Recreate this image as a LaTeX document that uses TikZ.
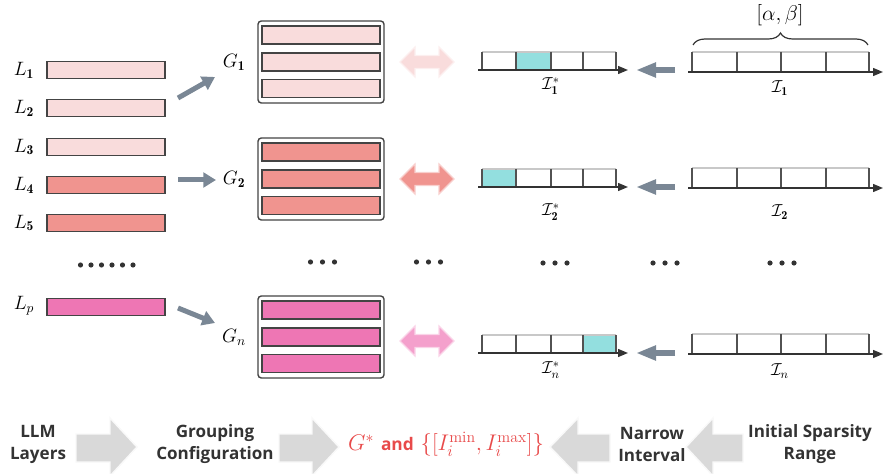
\RequirePackage{fix-cm}
\documentclass[tikz,border=0pt]{standalone}
\usepackage{fontspec}
\usetikzlibrary{arrows.meta,decorations.pathreplacing}
\newfontfamily\labfont{Open Sans}
\definecolor{lpink}{HTML}{F9DCDC}
\definecolor{salmon}{HTML}{F0948F}
\definecolor{hpink}{HTML}{EE76B4}
\definecolor{dpink}{HTML}{F4A0CC}
\definecolor{barline}{HTML}{444444}
\definecolor{agray}{HTML}{7A8795}
\definecolor{cyanc}{HTML}{93DFDF}
\definecolor{txtdark}{HTML}{333333}
\definecolor{redc}{HTML}{E84A4A}
\definecolor{blockg}{HTML}{D9D9D9}
\definecolor{celltop}{HTML}{C8C8C8}
\begin{document}
\begin{tikzpicture}[x=0.75pt,y=-0.75pt,
 lbar/.style={draw=barline,line width=0.9pt,minimum width=88.5pt,minimum height=12.75pt,inner sep=0pt},
 gbar/.style={lbar,minimum height=13.5pt},
 gbox/.style={draw=barline,line width=1.05pt,rounded corners=2.5pt,minimum width=94.5pt,minimum height=61.5pt,inner sep=0pt},
 mlab/.style={font=\fontsize{14.5}{17}\selectfont,inner sep=0pt},
 ilab/.style={font=\fontsize{13}{15}\selectfont,inner sep=0pt},
 garrow/.style={draw=agray,line width=3.75pt,-{Triangle[length=9.5pt,width=11pt]}},
 larrow/.style={draw=agray,line width=4.1pt,-{Triangle[length=15pt,width=10.5pt]}},
 axisln/.style={draw=txtdark,line width=1pt,-{Triangle[length=7.5pt,width=6pt]}},
 blab/.style={font=\labfont\fontsize{12.8}{16.5}\selectfont\bfseries,text=txtdark,align=center,inner sep=0pt},
 blk/.style={fill=blockg,draw=white!85!blockg,line width=1.1pt},
 dblarr/.style={line width=0.9pt},
]
\useasboundingbox (0,0) rectangle (883,474);

% ---------- LLM layers ----------
\foreach \i/\y/\c in {1/70/lpink,2/108/lpink,3/147/lpink,4/185/salmon,5/223/salmon}{
  \node[lbar,fill=\c] (L\i) at (106,\y) {};
  \node[mlab] (Ll\i) at (24,\y) {$L_{\mathbf{\i}}$};
}
\node[lbar,fill=hpink] (Lp) at (106,307) {};
\node[mlab] (Llp) at (24,306) {$L_p$};
\foreach \k in {0,...,5} \fill[txtdark] (80.5+10.5*\k,265) circle (1.95pt);

% ---------- arrows layers -> groups ----------
\coordinate (a1s) at (178,98);  \coordinate (a1e) at (215,77);
\coordinate (a2s) at (178,180); \coordinate (a2e) at (216,180);
\coordinate (a3s) at (178,308); \coordinate (a3e) at (215,323);
\draw[garrow] (a1s) -- (a1e);
\draw[garrow] (a2s) -- (a2e);
\draw[garrow] (a3s) -- (a3e);

% ---------- groups ----------
\foreach \g/\y/\c/\s in {1/62/lpink/\mathbf{1},2/179/salmon/\mathbf{2},n/337/hpink/n}{
  \node[gbox] (G\g) at (321,\y) {};
  \node[gbar,fill=\c] (G\g a) at (321,\y-27) {};
  \node[gbar,fill=\c] (G\g b) at (321,\y) {};
  \node[gbar,fill=\c] (G\g c) at (321,\y+26.5) {};
  \node[mlab] (Gl\g) at (234,\y) {$G_{\s}$};
}
\foreach \k in {0,1,2} \fill[txtdark] (310.5+12*\k,262) circle (1.95pt);

% ---------- double arrows ----------
\foreach \y/\c in {62/lpink,179/salmon,341/dpink}{
  \begin{scope}[shift={(427,\y)}]
    \filldraw[dblarr,fill=\c,draw=white!55!\c] (-27,0) -- (-12,-15) -- (-12,-6.5) -- (12,-6.5) -- (12,-15)
      -- (27,0) -- (12,15) -- (12,6.5) -- (-12,6.5) -- (-12,15) -- cycle;
  \end{scope}
}
\foreach \k in {0,1,2} \fill[txtdark] (416.5+12*\k,262) circle (1.95pt);

% ---------- narrowed intervals ----------
\foreach \a/\h/\ly/\s in {70/2/86/\mathbf{1},187/1/212/\mathbf{2},353/4/370/n}{
  \pgfmathsetmacro{\t}{\a-18}
  \ifcase\h\or
    \fill[cyanc] (482,\t) rectangle (516,\a);\or
    \fill[cyanc] (516,\t) rectangle (551,\a);\or
    \fill[cyanc] (551,\t) rectangle (583,\a);\or
    \fill[cyanc] (583,\t) rectangle (616,\a);\fi
  \draw[celltop,line width=0.8pt] (482,\t) -- (616,\t);
  \foreach \x in {482,516,551,583,616} \draw[txtdark!85,line width=1pt] (\x,\t) -- (\x,\a);
  \coordinate (sa\h) at (478,\a); \coordinate (se\h) at (628,\a);
  \draw[axisln] (sa\h) -- (se\h);
  \node[ilab] at (551,\ly) {$\mathcal{I}^{*}_{\s}$};
}
\foreach \k in {0,1,2} \fill[txtdark] (543+12*\k,263) circle (1.95pt);

% ---------- narrowing arrows ----------
\foreach \y in {70,187,353}{
  \coordinate (ns\y) at (675,\y); \coordinate (ne\y) at (636,\y);
  \draw[larrow] (ns\y) -- (ne\y);
}
\foreach \k in {0,1,2} \fill[txtdark] (653+12*\k,263) circle (1.95pt);

% ---------- initial intervals ----------
\foreach \a/\ly/\s in {72/88/\mathbf{1},188/212/\mathbf{2},354/371/n}{
  \pgfmathsetmacro{\t}{\a-20}
  \draw[celltop,line width=0.8pt] (692,\t) -- (869,\t);
  \foreach \x in {692,737,781,826,869} \draw[txtdark!85,line width=1pt] (\x,\t) -- (\x,\a);
  \draw[axisln] (688,\a) -- (883,\a);
  \node[ilab] at (780,\ly) {$\mathcal{I}_{\s}$};
}
\foreach \k in {0,1,2} \fill[txtdark] (770+12*\k,263) circle (1.95pt);

% brace
\coordinate (bl) at (693,45); \coordinate (br) at (868,45);
\draw[txtdark,line width=0.9pt,decorate,decoration={brace,amplitude=9pt}] (bl) -- (br);
\node[font=\fontsize{16}{18}\selectfont,inner sep=0pt] (ab) at (780,15) {$[\alpha,\beta]$};

% ---------- bottom flow ----------
\node[blab] (t1) at (38,444) {LLM\\Layers};
\node[blab] (t2) at (215,444) {Grouping\\Configuration};
\node[blab] (t3) at (652,444) {Narrow\\Interval};
\node[blab] (t4) at (810,444) {Initial Sparsity\\Range};
\node[inner sep=0pt,text=redc,font=\fontsize{17}{19}\selectfont] (res) at (446,444)
  {$G^{*}$\ {\labfont\bfseries\fontsize{13}{15}\selectfont and} $\{[I_i^{\mathrm{min}},I_i^{\mathrm{max}}]\}$};

\draw[blk] (76,434) -- (110,434) -- (110,418) -- (137,447) -- (110,476) -- (110,462) -- (76,462) -- cycle;
\draw[blk] (279,434) -- (312,434) -- (312,418) -- (339,447) -- (312,476) -- (312,462) -- (279,462) -- cycle;
\draw[blk] (610,434) -- (578,434) -- (578,418) -- (550,447) -- (578,476) -- (578,462) -- (610,462) -- cycle;
\draw[blk] (743,434) -- (713,434) -- (713,418) -- (686,447) -- (713,476) -- (713,462) -- (743,462) -- cycle;
\end{tikzpicture}
\end{document}
